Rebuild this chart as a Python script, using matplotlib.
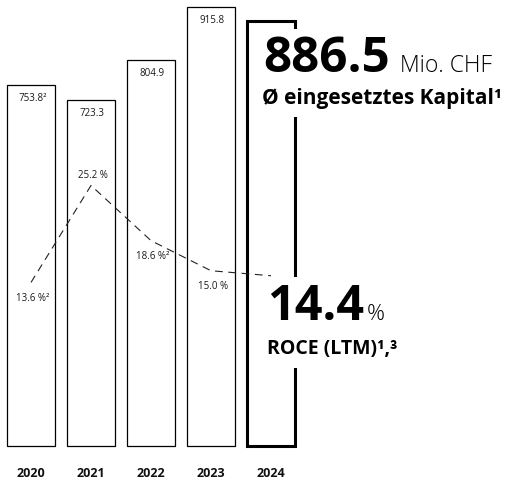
import matplotlib
matplotlib.use("Agg")
import matplotlib.pyplot as plt

years = ["2020", "2021", "2022", "2023", "2024"]
capital = [753.8, 723.3, 804.9, 915.8, 886.5]
capital_labels = ["753.8²", "723.3", "804.9", "915.8", ""]
roce = [13.6, 25.2, 18.6, 15.0, 14.4]
roce_labels = ["13.6 %²", "25.2 %", "18.6 %²", "15.0 %", ""]
roce_label_pos = ["below", "above", "below", "below", None]

W, H = 505, 488
plt.rcParams['font.family'] = ['Open Sans', 'DejaVu Sans']

fig = plt.figure(figsize=(W / 100, H / 100), dpi=100)

def fx(x):
    return x / W

def fy(y):
    return 1 - y / H

# axes: bar centers at px 31 + 60*i, baseline at px 446
x0 = -0.5
x1 = x0 + W / 60.0
left_px = 31 - 0.5 * 60
ax = fig.add_axes([fx(left_px), fy(446), (x1 - x0) * 60 / W, 446 / H])
ax.set_xlim(x0, x1)
ax.set_ylim(0, 446 / 0.479)
for s in ax.spines.values():
    s.set_visible(False)
ax.set_yticks([])

xs = list(range(len(years)))
for i, v in enumerate(capital):
    last = i == len(capital) - 1
    bars = ax.bar(i, v, width=0.8, facecolor="white", edgecolor="black",
                  linewidth=2.2 if last else 0.9, zorder=2)
    for b in bars:
        b.set_clip_on(False)
    if capital_labels[i]:
        ax.annotate(capital_labels[i], (i, v), xytext=(1, -9.7),
                    textcoords="offset points", ha="center", va="center",
                    fontsize=7, color="#1a1a1a", zorder=5)

ax.set_xticks(xs)
ax.set_xticklabels(years, fontsize=9, fontweight="bold", color="#111111")
ax.tick_params(axis="x", length=0, pad=15)

# ROCE twin axis
ax2 = ax.twinx()
ax2.set_ylim(-(446 - 396.1) / 8.358, 396.1 / 8.358)
ax2.set_yticks([])
for s in ax2.spines.values():
    s.set_visible(False)
ax2.plot(xs, roce, color="#222222", linewidth=0.8, linestyle=(0, (7, 5)), zorder=3)
for i, (v, lab, pos) in enumerate(zip(roce, roce_labels, roce_label_pos)):
    if not lab:
        continue
    dy = 7 if pos == "above" else -11.5
    ax2.annotate(lab, (i, v), xytext=(1.5, dy), textcoords="offset points",
                 ha="center", va="center", fontsize=7, color="#1a1a1a")

# big key figures (cover the 2024 bar's right edge with white boxes)
wb = dict(boxstyle="square,pad=0.12", fc="white", ec="none")
fig.text(fx(263), fy(72), "886.5", fontsize=35.5, fontweight="bold",
         ha="left", va="baseline", color="black", bbox=wb, zorder=10)
fig.text(fx(400), fy(72), "Mio. CHF", fontsize=16.5, fontweight="light",
         ha="left", va="baseline", color="black", zorder=10)
fig.text(fx(262), fy(104), "Ø eingesetztes Kapital¹", fontsize=15, fontweight="bold",
         ha="left", va="baseline", color="black",
         bbox=dict(boxstyle="square,pad=0.4", fc="white", ec="none"), zorder=10)

fig.text(fx(267), fy(320), "14.4", fontsize=35, fontweight="bold",
         ha="left", va="baseline", color="black", bbox=wb, zorder=10)
fig.text(fx(367), fy(320), "%", fontsize=16, fontweight="light",
         ha="left", va="baseline", color="black", zorder=10)
fig.text(fx(267), fy(354), "ROCE (LTM)¹,³", fontsize=14, fontweight="bold",
         ha="left", va="baseline", color="black",
         bbox=dict(boxstyle="square,pad=0.45", fc="white", ec="none"), zorder=10)

fig.savefig("out.png", dpi=100, facecolor="white")
